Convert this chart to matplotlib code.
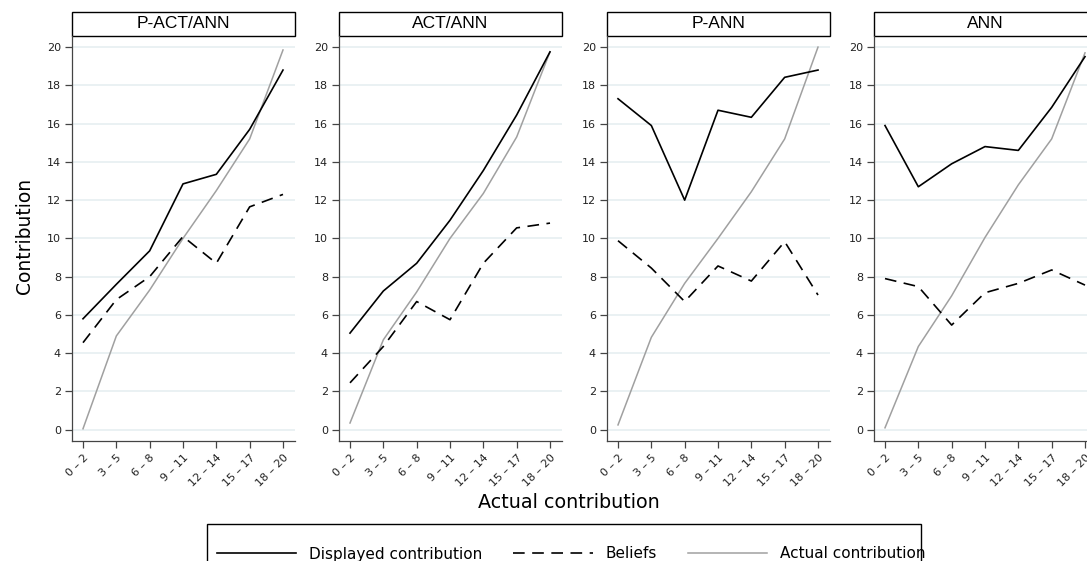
import numpy as np
import matplotlib
matplotlib.use('Agg')
import matplotlib.pyplot as plt
from matplotlib.patches import Rectangle
from matplotlib.lines import Line2D

# ---------------- data ----------------
bins = ['0 – 2', '3 – 5', '6 – 8', '9 – 11', '12 – 14', '15 – 17', '18 – 20']
panels = ['P-ACT/ANN', 'ACT/ANN', 'P-ANN', 'ANN']

displayed = [
    [5.8, 7.6, 9.35, 12.85, 13.35, 15.7, 18.8],
    [5.05, 7.25, 8.7, 10.95, 13.55, 16.45, 19.75],
    [17.3, 15.9, 12.0, 16.7, 16.33, 18.42, 18.8],
    [15.9, 12.7, 13.9, 14.8, 14.6, 16.85, 19.5],
]
beliefs = [
    [4.55, 6.8, 8.0, 10.1, 8.7, 11.65, 12.3],
    [2.45, 4.35, 6.7, 5.75, 8.7, 10.55, 10.8],
    [9.88, 8.45, 6.7, 8.56, 7.77, 9.83, 7.04],
    [7.9, 7.48, 5.47, 7.16, 7.65, 8.35, 7.56],
]
actual = [
    [0.05, 4.9, 7.3, 10.0, 12.5, 15.2, 19.85],
    [0.35, 4.7, 7.2, 10.0, 12.35, 15.3, 19.75],
    [0.25, 4.83, 7.65, 10.0, 12.44, 15.2, 20.0],
    [0.1, 4.35, 7.0, 10.05, 12.8, 15.2, 19.7],
]

W, H = 1087, 561
fig = plt.figure(figsize=(W / 100, H / 100), dpi=100)
fig.patch.set_facecolor('white')

x = np.arange(len(bins))
ax_left = [72, 339, 607, 874]
ax_w = 223
top_px, bot_px = 36, 441
strip_h = 24

for i, name in enumerate(panels):
    ax = fig.add_axes([ax_left[i] / W, 1 - bot_px / H, ax_w / W, (bot_px - top_px) / H])
    ax.set_xlim(-0.33, 6.36)
    ax.set_ylim(-0.59, 20.58)
    ax.set_yticks(range(0, 21, 2))
    ax.set_xticks(x)
    ax.set_xticklabels(bins, rotation=45, ha='right', va='top', rotation_mode='anchor',
                       fontsize=8, color='#222222')
    ax.tick_params(axis='y', labelsize=8, labelcolor='#222222', length=5, width=0.9,
                   color='#444444', pad=3)
    ax.tick_params(axis='x', length=5, width=0.9, color='#444444', pad=3)
    for s in ['top', 'right']:
        ax.spines[s].set_visible(False)
    for s in ['left', 'bottom']:
        ax.spines[s].set_color('#444444')
        ax.spines[s].set_linewidth(0.9)
    ax.grid(axis='y', color='#e8f0f2', linewidth=1.3)
    ax.set_axisbelow(True)

    ax.plot(x, actual[i], color='#a0a0a0', linewidth=1.1)
    ax.plot(x, beliefs[i], color='black', linewidth=1.2, dashes=(7, 4.5))
    ax.plot(x, displayed[i], color='black', linewidth=1.2)

    # strip title
    hfrac = strip_h / (bot_px - top_px)
    ax.add_patch(Rectangle((0, 1), 1, hfrac, transform=ax.transAxes, clip_on=False,
                           facecolor='white', edgecolor='black', linewidth=1.0))
    ax.text(0.5, 1 + hfrac / 2, name, transform=ax.transAxes, ha='center', va='center',
            fontsize=12.5, family='Liberation Sans')

fig.text(25 / W, 1 - 236 / H, 'Contribution', rotation=90, ha='center', va='center',
         fontsize=13.5, family='DejaVu Sans')
fig.text(569 / W, 1 - 503 / H, 'Actual contribution', ha='center', va='center',
         fontsize=13.75, family='DejaVu Sans')

# legend
fig.patches.append(Rectangle((207 / W, 1 - 600 / H), (921 - 207) / W, (600 - 524) / H,
                             transform=fig.transFigure, fill=False, edgecolor='black',
                             linewidth=1.0))
handles = [
    Line2D([], [], color='black', linewidth=1.2),
    Line2D([], [], color='black', linewidth=1.2, dashes=(7, 4.5)),
    Line2D([], [], color='#a0a0a0', linewidth=1.1),
]
fig.legend(handles, ['Displayed contribution', 'Beliefs', 'Actual contribution'],
           loc='center left', bbox_to_anchor=(217 / W, 1 - 554 / H), ncol=3,
           frameon=False, borderpad=0, borderaxespad=0, handlelength=5.2,
           handletextpad=0.85, columnspacing=2.0, prop={'family': 'DejaVu Sans', 'size': 11})

fig.savefig('out.png', dpi=100)
